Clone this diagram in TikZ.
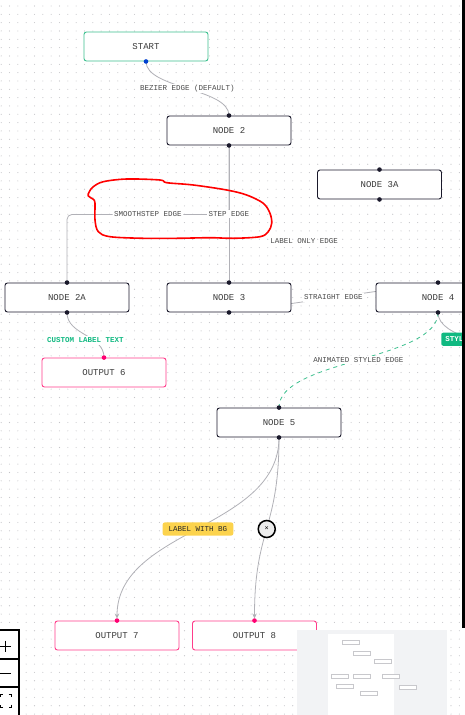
\documentclass[tikz,border=0pt]{standalone}
\usepackage{fontspec}
\setmonofont{Liberation Mono}
\usepackage{tikz}
\usetikzlibrary{arrows.meta,positioning,calc,backgrounds}
\pgfdeclarelayer{edges}
\pgfsetlayers{background,edges,main}
\definecolor{ink}{HTML}{1A192B}
\definecolor{edgegray}{HTML}{B1B1B7}
\definecolor{startgreen}{HTML}{3CC08E}
\definecolor{outpink}{HTML}{FF3D8B}
\definecolor{handlepink}{HTML}{FF0072}
\definecolor{handleblue}{HTML}{0041D0}
\definecolor{dotgray}{HTML}{C4C4C8}
\definecolor{labelgreen}{HTML}{10B981}
\definecolor{bgyellow}{HTML}{FCD34D}
\definecolor{mapgray}{HTML}{F2F3F5}
\definecolor{mapnode}{HTML}{C8C8CC}
\definecolor{txtgray}{HTML}{3A3A3A}
\definecolor{lblgray}{HTML}{4A4A4A}

\begin{document}
\begin{tikzpicture}[
    x=1pt, y=-1pt,
    blk/.style={draw=ink, fill=white, rounded corners=2.5pt, line width=0.9pt, minimum width=124pt, minimum height=29pt, inner sep=0pt, font=\ttfamily\fontsize{9}{10}\selectfont, text=txtgray},
    startblk/.style={blk, draw=startgreen},
    outblk/.style={blk, draw=outpink},
    hdl/.style={circle, fill=ink, inner sep=0pt, minimum size=4.6pt},
    lbl/.style={fill=white, inner sep=1.5pt, font=\ttfamily\fontsize{7.5}{8}\selectfont, text=lblgray},
    ylbl/.style={lbl, fill=bgyellow, rounded corners=2pt, inner xsep=6pt, inner ysep=4pt, text=black!85},
    glbl/.style={lbl, fill=labelgreen, rounded corners=2pt, inner xsep=4pt, inner ysep=4pt, text=white, font=\ttfamily\bfseries\fontsize{7.5}{8}\selectfont},
    xbtn/.style={circle, draw=black, line width=1.5pt, fill=black!7, minimum size=17pt, inner sep=0pt, font=\ttfamily\fontsize{7}{8}\selectfont},
    edge/.style={draw=edgegray, line width=0.8pt},
    ctrl/.style={draw=black, line width=1.6pt, fill=white},
    >={Stealth[length=5pt,width=4.5pt]}
]
\useasboundingbox (0,0) rectangle (465,715);
\begin{scope}[on background layer]
\fill[white] (0,0) rectangle (465,715);
\foreach \i in {0,...,55}{
  \foreach \j in {0,...,85}{
    \fill[dotgray] ({1.2+8.33*\i},{6+8.33*\j}) circle (0.55);
  }
}
\end{scope}

\node[startblk] (start) at (146,46.5) {START};
\node[blk] (n2) at (229,130.5) {NODE 2};
\node[blk] (n3a) at (379.5,184.5) {NODE 3A};
\node[blk] (n2a) at (67,297.5) {NODE 2A};
\node[blk] (n3) at (229,297.5) {NODE 3};
\node[blk] (n4) at (438,297.5) {NODE 4};
\node[outblk] (o6) at (104,372.5) {OUTPUT 6};
\node[blk] (n5) at (279,422.5) {NODE 5};
\node[outblk] (o7) at (117,635.5) {OUTPUT 7};
\node[outblk] (o8) at (254.5,635.5) {OUTPUT 8};
\coordinate (off6) at (502,366);

\node[hdl, fill=handleblue] (start-s) at (start.south) {};
\node[hdl] (n2-t) at (n2.north) {};
\node[hdl] (n2-s) at (n2.south) {};
\node[hdl] (n3a-t) at (n3a.north) {};
\node[hdl] (n3a-s) at (n3a.south) {};
\node[hdl] (n2a-t) at (n2a.north) {};
\node[hdl] (n2a-s) at (n2a.south) {};
\node[hdl] (n3-t) at (n3.north) {};
\node[hdl] (n3-s) at (n3.south) {};
\node[hdl] (n4-t) at (n4.north) {};
\node[hdl] (n4-s) at (n4.south) {};
\node[hdl, fill=handlepink] (o6-t) at (o6.north) {};
\node[hdl] (n5-t) at (n5.north) {};
\node[hdl] (n5-s) at (n5.south) {};
\node[hdl, fill=handlepink] (o7-t) at (o7.north) {};
\node[hdl, fill=handlepink] (o8-t) at (o8.north) {};

\begin{pgfonlayer}{edges}
\draw[edge] (start-s.center) .. controls +(0,27.5) and +(0,-27.5) .. node[lbl] {BEZIER EDGE (DEFAULT)} (n2-t.center);
\draw[edge, rounded corners=5pt] (n2-s.center) -- ++(0,69) -| node[lbl, pos=0.25] {SMOOTHSTEP EDGE} (n2a-t.center);
\draw[edge] (n2-s.center) -- node[lbl] {STEP EDGE} (n3-t.center);
\node[lbl, fill=none] (lblonly) at ($(n3a-s)!0.5!(n3-t)$) {LABEL ONLY EDGE};
\draw[edge] (n3-s.center) -- node[lbl] {STRAIGHT EDGE} (n4-t.center);
\draw[edge] (n4-s.center) .. controls +(0,27) and +(0,-27) .. node[glbl] {STYLED EDGE} (off6);
\draw[edge, draw=startgreen, dash pattern=on 4pt off 4pt] (n4-s.center) .. controls +(0,48) and +(0,-48) .. node[lbl] {ANIMATED STYLED EDGE} (n5-t.center);
\draw[edge] (n2a-s.center) .. controls +(0,23) and +(0,-23) .. (o6-t.center);
\node[lbl, text=labelgreen, font=\ttfamily\bfseries\fontsize{7.5}{8}\selectfont] (custom) at (85.5,340.5) {CUSTOM LABEL TEXT};
\draw[edge, ->, shorten >=2pt] (n5-s.center) .. controls +(0,92) and +(0,-92) .. node[ylbl] {LABEL WITH BG} (o7-t.center);
\draw[edge, ->, shorten >=2pt] (n5-s.center) .. controls +(0,92) and +(0,-92) .. node[xbtn] {×} (o8-t.center);
\end{pgfonlayer}

\draw[red, line width=1.6pt] plot[smooth cycle, tension=0.55] coordinates {
  (89.3,191.7) (93.3,186.7) (103.3,181.7) (126.7,179) (160,180) (166.7,182.7)
  (193.3,185) (226.7,190) (246.7,195) (263.3,203.3) (270,213.3) (271.7,223.3)
  (268.3,231.7) (260,236.7) (233.3,238.3) (210,237.7) (176.7,238.3) (143.3,238.3)
  (110,236.7) (98.3,231.7) (95,220) (95,203.3) (93.3,199.3) (88.3,196)};

\fill[mapgray] (297,630) rectangle (447,715);
\fill[white] (328,634) rectangle (394,715);
\foreach \mx/\my in {342/640, 353/651, 374/659, 331/674, 353/674, 382/674, 336/684, 399/685, 360/691}{
  \draw[mapnode, line width=0.7pt, fill=white] (\mx,\my) rectangle ++(17,4);
}

\draw[ctrl] (-10,630) rectangle (19,659);
\draw[ctrl] (-10,659) rectangle (19,687);
\draw[ctrl] (-10,687) rectangle (19,718);
\draw[line width=1pt] (0,646) -- (11,646) (5.5,640.5) -- (5.5,651.5);
\draw[line width=1pt] (0,673.3) -- (11,673.3);
\draw[line width=1pt] (0.5,697) |- (3,694.5) (8.5,694.5) -| (11,697) (11,704.5) |- (8.5,707) (3,707) -| (0.5,704.5);

\fill[black] (462,0) rectangle (465,628);
\end{tikzpicture}
\end{document}
